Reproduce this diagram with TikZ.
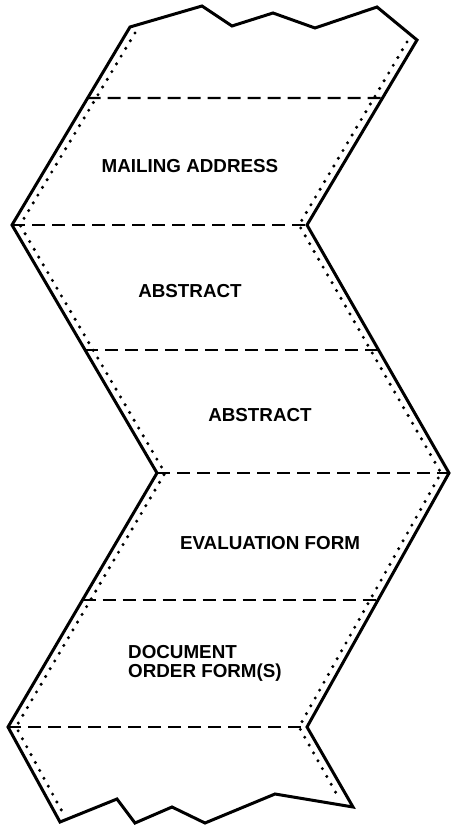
\documentclass[tikz,border=0pt]{standalone}
\usepackage{fontspec}
\setmainfont{Liberation Sans}
\usetikzlibrary{calc}
\begin{document}
\begin{tikzpicture}[x=1pt,y=-1pt,
  edge/.style={line width=3pt, line join=miter},
  perf/.style={line width=3.4pt, line cap=round, dash pattern=on 0pt off 9pt},
  fold/.style={line width=2.1pt, dash pattern=on 13pt off 7pt},
  lbl/.style={font=\fontsize{18.8}{22}\selectfont\bfseries, inner sep=0pt}]
\useasboundingbox (0,0) rectangle (451,826);
% outline vertices
\coordinate (TL) at (130,27);
\coordinate (L1) at (12,225);
\coordinate (L2) at (157,473);
\coordinate (L3) at (8,727);
\coordinate (BL) at (60,822);
\coordinate (TR) at (417,40);
\coordinate (R1) at (307,225);
\coordinate (R2) at (449,473);
\coordinate (R3) at (307,727);
\coordinate (BR) at (353,807);
% outline with torn top and bottom
\draw[edge] (TL) -- (202,6) -- (232,26) -- (273,13) -- (315,28) -- (377,7) -- (TR)
  -- (R1) -- (R2) -- (R3) -- (BR)
  -- (275,794) -- (205,823) -- (172,807) -- (135,823) -- (117,799) -- (BL)
  -- (L3) -- (L2) -- (L1) -- cycle;
% perforations
\draw[perf] (135,33) -- (20,225) -- (165,473) -- (16,727) -- (64,815);
\draw[perf] (407,42) -- (299,225) -- (441,473) -- (299,727) -- (340,800);
% fold lines
\coordinate (A1) at ($(L1)!0.6414!(TL)$);
\coordinate (A2) at ($(R1)!0.6865!(TR)$);
\coordinate (B1) at ($(L1)!0.504!(L2)$);
\coordinate (B2) at ($(R1)!0.504!(R2)$);
\coordinate (C1) at ($(L2)!0.5!(L3)$);
\coordinate (C2) at ($(R2)!0.5!(R3)$);
\draw[fold] (A1) -- (A2);
\draw[fold] (L1) -- (R1);
\draw[fold] (B1) -- (B2);
\draw[fold] (L2) -- (R2);
\draw[fold] (C1) -- (C2);
\draw[fold] (L3) -- (R3);
% labels
\node[lbl, anchor=base] (mail) at (190,172.5) {MAILING ADDRESS};
\node[lbl, anchor=base] (abs1) at (190,297.5) {ABSTRACT};
\node[lbl, anchor=base] (abs2) at (260,421.5) {ABSTRACT};
\node[lbl, anchor=base] (eval) at (270,549) {EVALUATION FORM};
\node[lbl, anchor=base west] (doc1) at (128,658) {DOCUMENT};
\node[lbl, anchor=base west] (doc2) at (128,677) {ORDER FORM(S)};
\end{tikzpicture}
\end{document}
